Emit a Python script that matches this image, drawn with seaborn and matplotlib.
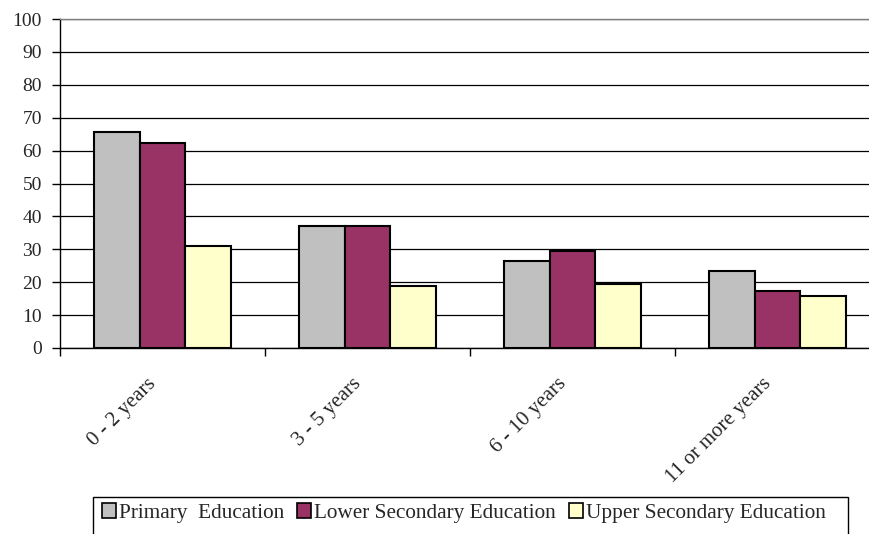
import matplotlib
matplotlib.use("Agg")
import matplotlib.pyplot as plt
from matplotlib.patches import Rectangle
from matplotlib.transforms import ScaledTranslation
import seaborn as sns
import pandas as pd

# Duration categories and shares (%) by education level
categories = ["0 - 2 years", "3 - 5 years", "6 - 10 years", "11 or more years"]
levels = ["Primary  Education", "Lower Secondary Education", "Upper Secondary Education"]
primary = [65.6, 37.0, 26.4, 23.3]
lower_secondary = [62.3, 37.0, 29.6, 17.3]
upper_secondary = [31.0, 18.9, 19.4, 15.7]
colors = ["#C0C0C0", "#993366", "#FFFFCC"]

rows = []
for lvl, vals in zip(levels, [primary, lower_secondary, upper_secondary]):
    for cat, v in zip(categories, vals):
        rows.append({"category": cat, "level": lvl, "value": v})
df = pd.DataFrame(rows)

sns.set_style("white")
plt.rcParams["font.family"] = ["Liberation Serif", "DejaVu Serif"]

W, H = 870, 534
fig = plt.figure(figsize=(W / 100, H / 100), dpi=100)
ax = fig.add_axes([60 / W, (H - 348) / H, 820 / W, 329 / H])

sns.barplot(data=df, x="category", y="value", hue="level", order=categories,
            hue_order=levels, palette=colors, width=0.666, gap=0,
            edgecolor="black", linewidth=1.5, saturation=1, ax=ax, legend=False,
            errorbar=None, zorder=3)

ax.set_ylim(0, 100)
ax.set_xlim(-0.5, 3.5)
ax.set_yticks(range(0, 101, 10))
ax.yaxis.grid(True, color="black", linewidth=0.9, zorder=0)
ax.set_axisbelow(True)
ax.set_xlabel("")
ax.set_ylabel("")

for s in ["left", "bottom"]:
    ax.spines[s].set_color("black")
    ax.spines[s].set_linewidth(1.0)
ax.spines["top"].set_color("#808080")
ax.spines["top"].set_linewidth(1.0)
ax.spines["right"].set_visible(False)

ax.tick_params(axis="y", direction="out", length=6, width=1, color="black",
               labelsize=14, pad=7, left=True)
# category boundary ticks on the x axis
ax.set_xticks([-0.5, 0.5, 1.5, 2.5, 3.5], minor=False)
ax.set_xticklabels([])
ax.tick_params(axis="x", which="major", direction="out", length=6, width=1,
               color="black", bottom=True)
ax.set_xticks(range(len(categories)), minor=True)
ax.set_xticklabels(categories, minor=True, rotation=45, ha="right",
                   va="top", rotation_mode="anchor", fontsize=15)
ax.tick_params(axis="x", which="minor", length=0, pad=19)
shift = ScaledTranslation(-16 / 100, 0, fig.dpi_scale_trans)
for lab in ax.get_xticklabels(minor=True):
    lab.set_transform(lab.get_transform() + shift)

# legend in a plain box along the bottom
handles = [Rectangle((0, 0), 1, 1, facecolor=c, edgecolor="black", linewidth=1.2)
           for c in colors]
leg = fig.legend(handles, levels, loc="center left",
                 bbox_to_anchor=(102 / W, (H - 513) / H), frameon=False,
                 ncol=3, fontsize=15.3, handlelength=0.66, handleheight=0.66,
                 handletextpad=0.15, columnspacing=0.6, borderpad=0,
                 borderaxespad=0)
fig.patches.append(Rectangle((93 / W, (H - 545) / H), 755 / W, 48 / H,
                             transform=fig.transFigure, fill=False,
                             edgecolor="black", linewidth=1.0))

fig.savefig("out.png", dpi=100)
